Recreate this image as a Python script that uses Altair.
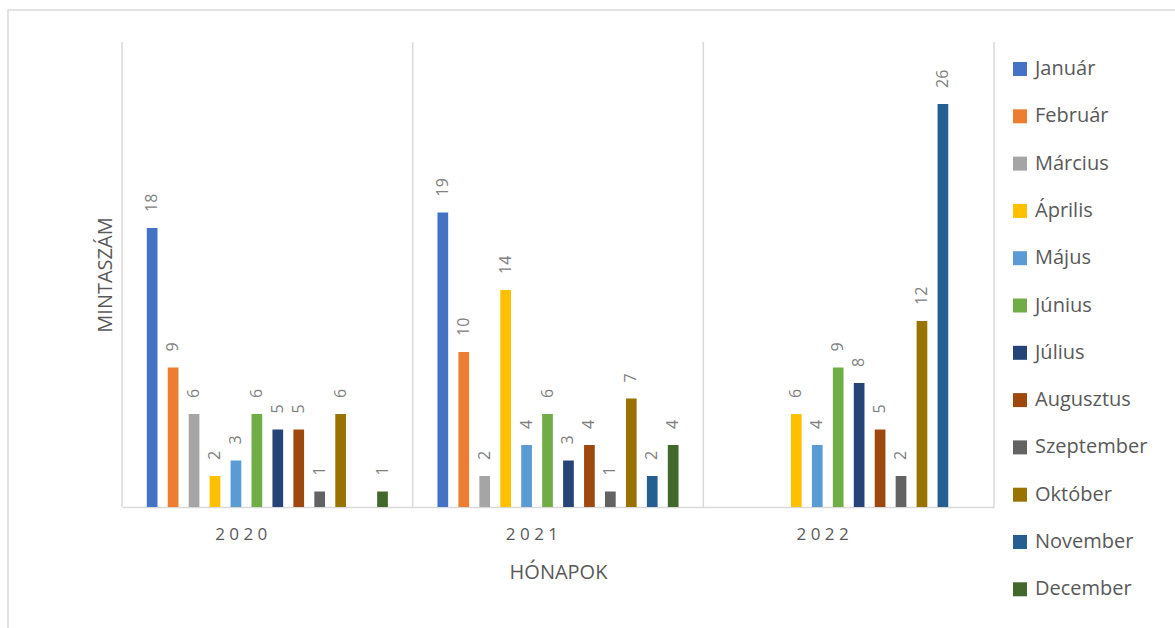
import altair as alt
import pandas as pd

years = ["2020", "2021", "2022"]
months = ["Január", "Február", "Március", "Április", "Május", "Június",
          "Július", "Augusztus", "Szeptember", "Október", "November", "December"]
colors = ["#4472C4", "#ED7D31", "#A5A5A5", "#FFC000", "#5B9BD5", "#70AD47",
          "#264478", "#9E480E", "#636363", "#997300", "#255E91", "#43682B"]

# None = no bar in the reference
values_2020 = [18, 9, 6, 2, 3, 6, 5, 5, 1, 6, None, 1]
values_2021 = [19, 10, 2, 14, 4, 6, 3, 4, 1, 7, 2, 4]
values_2022 = [None, None, None, 6, 4, 9, 8, 5, 2, 12, 26, None]

rows = []
for y, vals in zip(years, [values_2020, values_2021, values_2022]):
    for m, v in zip(months, vals):
        if v is not None:
            rows.append({"year": y, "month": m, "value": v})
df = pd.DataFrame(rows)
years_df = pd.DataFrame({"year": years})

FONT = "Open Sans"
GRID = "#d9d9d9"

x_enc = alt.X(
    "year:N",
    sort=years,
    scale=alt.Scale(paddingInner=0, paddingOuter=0),
    axis=alt.Axis(
        title="HÓNAPOK",
        domain=True,
        domainColor=GRID,
        domainWidth=1.5,
        ticks=False,
        tickSize=0,
        grid=False,
        labelAngle=0,
        labelFont=FONT,
        labelFontSize=17,
        labelColor="#595959",
        labelPadding=27,
        labelExpr="join(split(datum.label, ''), ' ')",
        titleFont=FONT,
        titleFontSize=20,
        titleFontWeight="normal",
        titleColor="#595959",
        titleY=55,
        titleBaseline="top",
    ),
)
xoff_enc = alt.XOffset(
    "month:N",
    sort=months,
    scale=alt.Scale(domain=months, paddingInner=0, paddingOuter=0.94),
)
y_enc = alt.Y(
    "value:Q",
    scale=alt.Scale(domain=[0, 30], nice=False),
    axis=alt.Axis(
        title="MINTASZÁM",
        domain=False,
        ticks=False,
        labels=False,
        grid=False,
        titleFont=FONT,
        titleFontSize=20,
        titleFontWeight="normal",
        titleColor="#595959",
        titleX=-17,
        titleBaseline="middle",
    ),
)

border = alt.Chart(alt.Data(values=[{"k": 1}])).mark_rect(
    fill=None, stroke=GRID, strokeWidth=1.5
).encode(
    x=alt.value(-114), x2=alt.value(1200), y=alt.value(-32), y2=alt.value(700)
)

rules_left = alt.Chart(years_df).mark_rule(color=GRID, strokeWidth=1.5).encode(
    x=alt.X("year:N", sort=years, bandPosition=0)
)
rules_right = alt.Chart(years_df).transform_filter(
    alt.datum.year == years[-1]
).mark_rule(color=GRID, strokeWidth=1.5).encode(
    x=alt.X("year:N", sort=years, bandPosition=1)
)

bars = alt.Chart(df).mark_bar(width=10.7).encode(
    x=x_enc,
    xOffset=xoff_enc,
    y=y_enc,
    color=alt.Color(
        "month:N",
        sort=months,
        scale=alt.Scale(domain=months, range=colors),
        legend=alt.Legend(
            title=None,
            orient="none",
            legendX=888,
            legendY=17,
            symbolType="square",
            symbolSize=196,
            symbolStrokeWidth=0,
            labelFont=FONT,
            labelFontSize=20,
            labelColor="#595959",
            labelOffset=5,
            rowPadding=27.3,
            padding=0,
        ),
    ),
)

labels = alt.Chart(df).mark_text(
    angle=270, align="left", baseline="middle", dx=16,
    font=FONT, fontSize=16, color="#808080"
).encode(
    x=alt.X("year:N", sort=years),
    xOffset=xoff_enc,
    y=alt.Y("value:Q"),
    text=alt.Text("value:Q"),
)

chart = alt.layer(border, rules_left, rules_right, bars, labels).properties(
    width=872,
    height=465,
    autosize=alt.AutoSizeParams(type="none"),
    padding={"left": 122, "top": 42, "right": 181, "bottom": 121},
    background="white",
).configure_view(stroke=None)

chart.save("out.html", embed_options={"renderer": "svg", "actions": False})
